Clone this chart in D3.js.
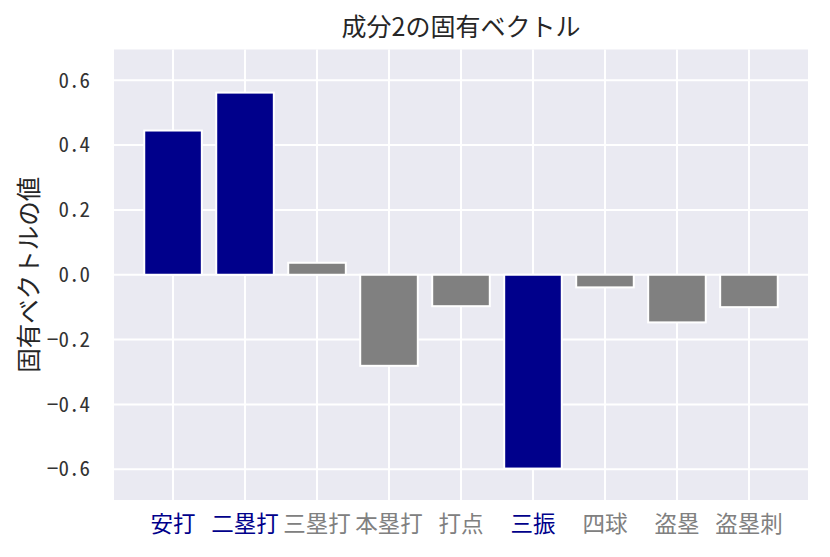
<!DOCTYPE html>
<html>
<head>
<meta charset="utf-8">
<script src="https://cdn.jsdelivr.net/npm/d3@7"></script>
<style>
  body { margin: 0; background: #fff; }
</style>
</head>
<body>
<div id="chart-area"></div>
<script>
// 成分2の固有ベクトル
const categories = ["安打", "二塁打", "三塁打", "本塁打", "打点", "三振", "四球", "盗塁", "盗塁刺"];
const loadings = [0.445, 0.562, 0.037, -0.281, -0.097, -0.598, -0.039, -0.147, -0.100];
const yTicks = [-0.6, -0.4, -0.2, 0.0, 0.2, 0.4, 0.6];

const W = 830, H = 557;
const plotL = 114, plotR = 808, plotT = 49.5, plotB = 500;
const monoFont = "'Noto Sans Mono CJK JP', 'DejaVu Sans Mono', monospace";
const cjkFont = "'Noto Sans CJK JP', 'Noto Sans', sans-serif";

// big loadings get highlighted
const color = (v) => Math.abs(v) >= 0.3 ? "#00008b" : "#808080";

var svg = d3.select("#chart-area").append("svg")
            .attr("width", W)
            .attr("height", H);

const x = d3.scaleBand()
            .domain(categories)
            .range([plotL, plotR])
            .paddingInner(0.2)
            .paddingOuter(0.42);

const y = d3.scaleLinear().domain([-0.695, 0.695]).range([plotB, plotT]);

svg.append("rect")
    .attr("x", plotL).attr("y", plotT)
    .attr("width", plotR - plotL).attr("height", plotB - plotT)
    .attr("fill", "#eaeaf2");

// grid
svg.append("g").selectAll("line").data(yTicks).enter().append("line")
    .attr("x1", plotL).attr("x2", plotR)
    .attr("y1", d => y(d)).attr("y2", d => y(d))
    .attr("stroke", "#fff").attr("stroke-width", 2);

svg.append("g").selectAll("line").data(categories).enter().append("line")
    .attr("x1", d => x(d) + x.bandwidth() / 2).attr("x2", d => x(d) + x.bandwidth() / 2)
    .attr("y1", plotT).attr("y2", plotB)
    .attr("stroke", "#fff").attr("stroke-width", 2);

// bars
svg.append("g").selectAll("rect").data(loadings).enter().append("rect")
    .attr("x", (d, i) => x(categories[i]))
    .attr("y", d => y(Math.max(0, d)))
    .attr("width", x.bandwidth())
    .attr("height", d => Math.abs(y(d) - y(0)))
    .attr("fill", d => color(d))
    .attr("stroke", "#fff")
    .attr("stroke-width", 2);

// y axis
const yAxis = svg.append("g")
    .attr("transform", `translate(${plotL},0)`)
    .call(d3.axisLeft(y).tickValues(yTicks).tickSize(0).tickPadding(24)
            .tickFormat(d => d3.format(".1f")(d).replace("-", "\u2212")));
yAxis.select(".domain").remove();
yAxis.selectAll("text")
    .attr("font-family", monoFont)
    .attr("font-size", 21)
    .attr("fill", "#333");

// x axis
const xAxis = svg.append("g")
    .attr("transform", `translate(0,${plotB})`)
    .call(d3.axisBottom(x).tickSize(0).tickPadding(16));
xAxis.select(".domain").remove();
xAxis.selectAll("text")
    .attr("font-family", cjkFont)
    .attr("font-size", 22.5)
    .attr("fill", (d, i) => color(loadings[i]));

svg.append("text")
    .attr("x", (plotL + plotR) / 2).attr("y", 36)
    .attr("text-anchor", "middle")
    .attr("font-family", cjkFont)
    .attr("font-size", 25)
    .attr("fill", "#262626")
    .text("成分2の固有ベクトル");

svg.append("text")
    .attr("transform", `translate(38,${(plotT + plotB) / 2}) rotate(-90)`)
    .attr("text-anchor", "middle")
    .attr("font-family", cjkFont)
    .attr("font-size", 24.5)
    .attr("fill", "#262626")
    .text("固有ベクトルの値");
</script>
</body>
</html>
